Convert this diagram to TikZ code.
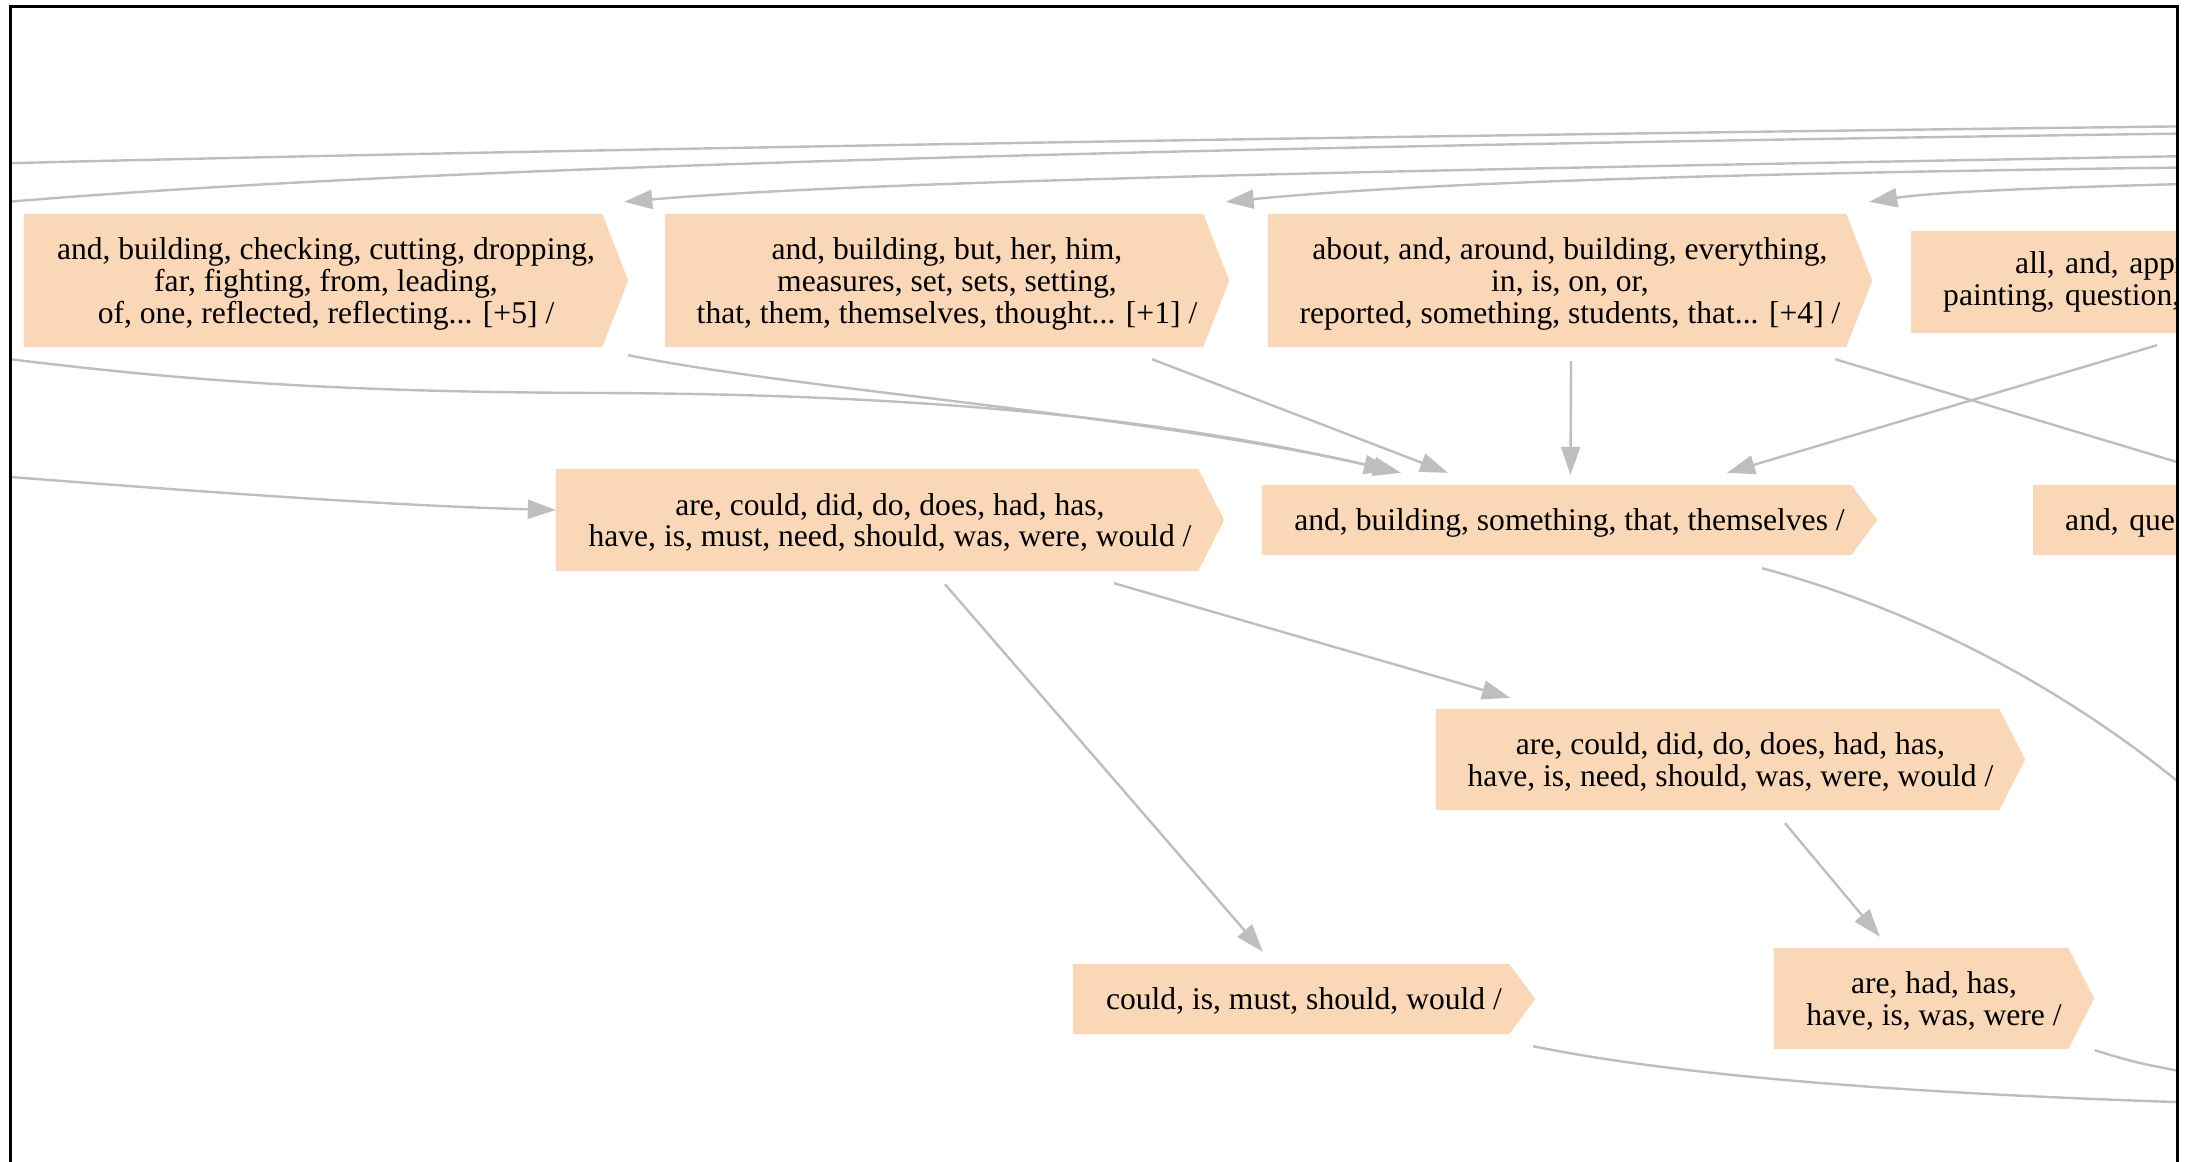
\documentclass[tikz,border=0pt]{standalone}
\usepackage{fontspec}
\setmainfont{Liberation Serif}
\usetikzlibrary{arrows.meta,calc,backgrounds}
\definecolor{boxfill}{RGB}{250,215,182}
\definecolor{edgegray}{RGB}{190,190,190}
\begin{document}
\begin{tikzpicture}[x=1pt,y=-1pt,
  box/.style={rectangle, inner sep=0pt, align=center, text=black, text depth=0pt,
              font=\fontsize{31.6pt}{31.8pt}\selectfont},
  cutbox/.style={box, anchor=west, align=left, inner xsep=32pt, inner ysep=0pt},
  link/.style={draw=edgegray, line width=2.4pt},
  arc/.style={link, -{Triangle[length=28pt,width=19pt]}},
]
\useasboundingbox (0,0) rectangle (2193,1162);

\begin{scope}
\clip (11,8) rectangle (2177,1170);

% ---- word-class boxes (rectangle up to the tip of the pointed side)
\node[box, minimum width=604, minimum height=133] (A) at (326,280.5)
  {and, building, checking, cutting, dropping,\\far, fighting, from, leading,\\of, one, reflected, reflecting... [+5] /};
\node[box, minimum width=564, minimum height=133] (B) at (947,280.5)
  {and, building, but, her, him,\\measures, set, sets, setting,\\that, them, themselves, thought... [+1] /};
\node[box, minimum width=604, minimum height=133] (C) at (1570,280.5)
  {about, and, around, building, everything,\\in, is, on, or,\\reported, something, students, that... [+4] /};
\node[cutbox, text depth={}, text width=536, minimum height=102] (D) at (1911,282)
  {\hspace*{72pt}all, and, approach,\\painting, question, that /};
\node[box, minimum width=668, minimum height=102] (E) at (890,520)
  {are, could, did, do, does, had, has,\\have, is, must, need, should, was, were, would /};
\node[box, minimum width=615, minimum height=70] (F) at (1569.5,520)
  {and, building, something, that, themselves /};
\node[cutbox, text width=336, minimum height=70] (G) at (2033,520)
  {and, question /};
\node[box, minimum width=589, minimum height=101] (H) at (1730.5,759.5)
  {are, could, did, do, does, had, has,\\have, is, need, should, was, were, would /};
\node[box, minimum width=462, minimum height=70] (I) at (1304,999)
  {could, is, must, should, would /};
\node[box, minimum width=320, minimum height=101] (J) at (1934,998.5)
  {are, had, has,\\have, is, was, were /};

% ---- ends of connectors that leave the visible area
\coordinate (la) at (-60,165);   \coordinate (ra) at (2300,125);
\coordinate (lb) at (-40,206);   \coordinate (rb) at (2300,132);
\coordinate (rc) at (2300,154);
\coordinate (rd) at (2300,166);
\coordinate (re) at (2300,181);
\coordinate (lf) at (-40,353);
\coordinate (le) at (-40,473);
\coordinate (rg) at (2230,478);
\coordinate (rh) at (2200,800);
\coordinate (ri) at (2240,1104);
\coordinate (rj) at (2230,1080);

% ---- long connectors along the top
\draw[link] (ra) .. controls (1500,134) and (500,150) .. (la);
\draw[link] (rb) .. controls (900,150) and (300,175) .. (lb);
\draw[arc] (rc) .. controls (1600,167) and (900,178) .. ($(A.north east)+(-4,-12)$);
\draw[arc] (rd) .. controls (1800,172) and (1450,180) .. ($(B.north east)+(-3.5,-12)$);
\draw[arc] (re) .. controls (2100,186) and (1950,190) .. ($(C.north east)+(-3,-12)$);

% ---- connectors into the middle row
\draw[arc] (lf) .. controls (150,377) and (300,392) .. (600,393)
                .. controls (900,394) and (1150,415) .. ($(F.north)+(-177.5,-14)$);
\draw[arc] ($(A.south east)+(0,8)$) .. controls (800,390) and (1150,415) .. ($(F.north)+(-168.5,-12)$);
\draw[arc] ($(B.south)+(205,12)$) -- ($(F.north)+(-121.5,-12)$);
\draw[arc] ($(C.south)+(1,14)$) -- ($(F.north)+(1,-10)$);
\draw[arc] ($(D.south west)+(246,12)$) -- ($(F.north)+(157.5,-12)$);
\draw[link] ($(C.south east)+(-37,12)$) -- (rg);
\draw[arc] (le) .. controls (200,492) and (400,506) .. ($(E.west)+(0,-10)$);

% ---- lower connectors
\draw[arc] ($(E.south)+(55,13)$) -- ($(I.north)+(-41,-12)$);
\draw[arc] ($(E.south)+(224,12)$) -- ($(H.north)+(-220.5,-11)$);
\draw[arc] ($(H.south)+(54.5,13)$) -- ($(J.north)+(-54,-11)$);
\draw[link] ($(F.south)+(192.5,13)$) .. controls (1900,605) and (2060,680) .. (rh);
\draw[link] ($(I.south east)+(-2,12)$) .. controls (1650,1070) and (1850,1093) .. (ri);
\draw[link] ($(J.south east)+(0.5,1)$) .. controls (2140,1064) .. (rj);
\end{scope}

% ---- box fills: a rectangle whose right side ends in a point
\begin{scope}[on background layer]
\fill[white] (0,0) rectangle (2193,1162);
\clip (11,8) rectangle (2177,1170);
\foreach \n in {A,B,C,D,E,F,G,H,I,J}
  \fill[boxfill] (\n.north west) -- ([xshift=-26pt]\n.north east) -- (\n.east)
     -- ([xshift=-26pt]\n.south east) -- (\n.south west) -- cycle;
\end{scope}

% ---- frame
\draw[black, line width=3pt] (10,1162) -- (10,6.7) -- (2177.7,6.7) -- (2177.7,1162);
\end{tikzpicture}
\end{document}
